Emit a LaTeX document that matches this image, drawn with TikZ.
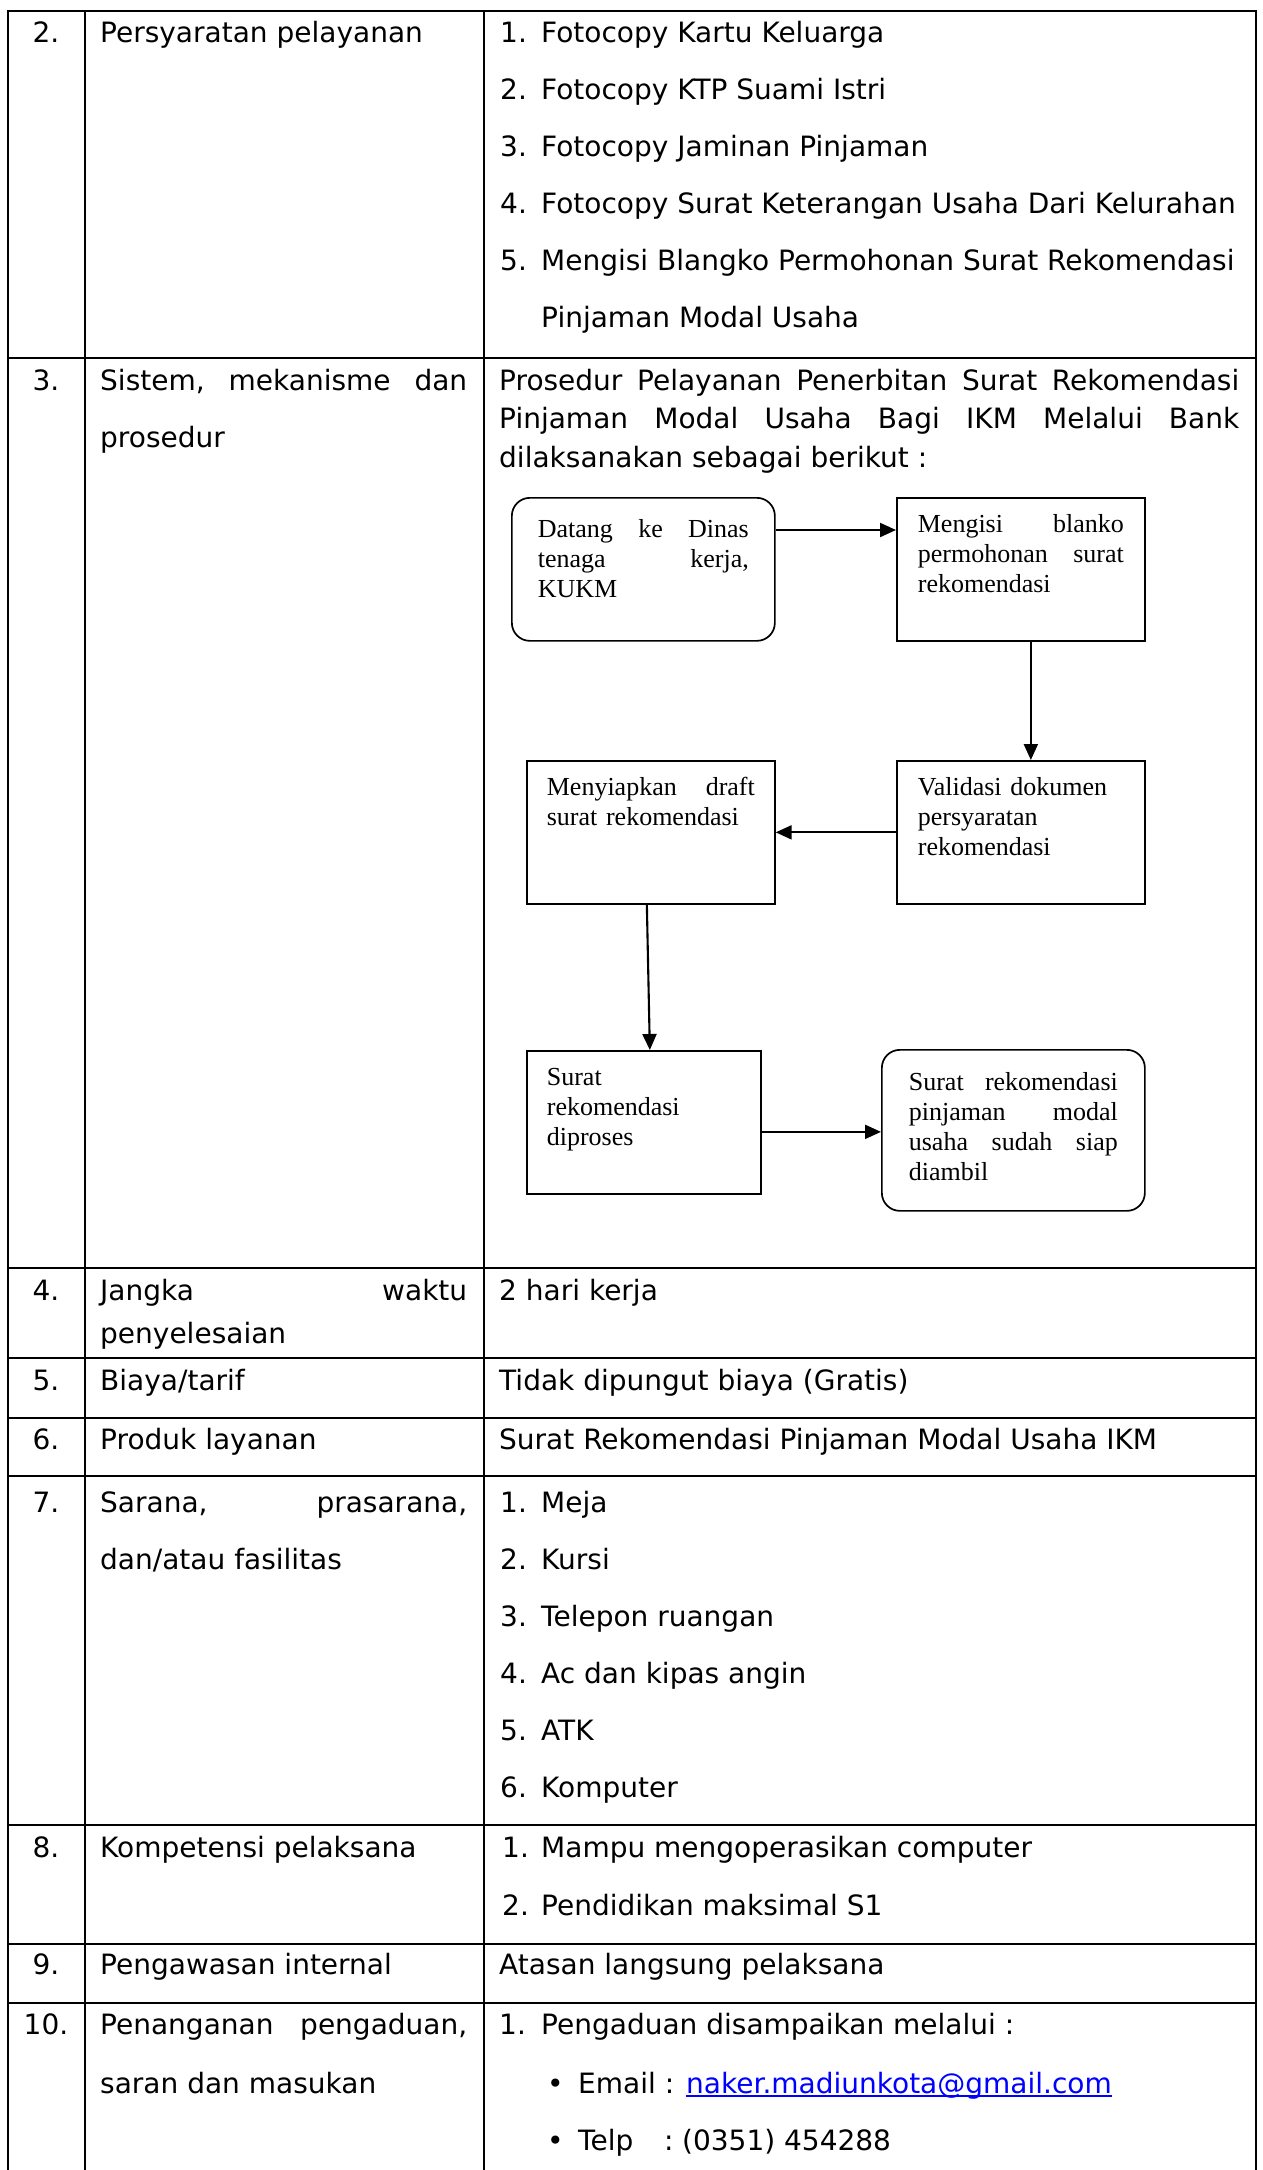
\documentclass[tikz,border=0pt]{standalone}
\usepackage{fontspec}
\setmainfont{DejaVu Sans}
\newfontfamily\tnr{Liberation Serif}
\usetikzlibrary{arrows.meta}
\newcommand\jline[2]{\leavevmode\hbox to #1{#2}}
\begin{document}
\begin{tikzpicture}[x=1pt,y=-1pt,
  grid/.style={line width=2.7pt,line cap=rect},
  cell/.style={anchor=base west,inner sep=0pt,font=\fontsize{28}{34}\selectfont},
  idx/.style={anchor=base,inner sep=0pt,font=\fontsize{28}{34}\selectfont},
  flow/.style={draw,line width=1.7pt,anchor=north west,inner ysep=0pt,align=left,font=\tnr\fontsize{26}{30}\selectfont},
  rbox/.style={rounded corners=18pt},
  conn/.style={line width=2.1pt,-{Triangle[length=16pt,width=14pt]}}
]
\useasboundingbox (0,0) rectangle (1262,2170);
\fill[white] (0,0) rectangle (1262,2170);

% ---- table grid ----
\foreach \yy in {11,358,1268,1358,1418,1476,1825,1944,2003}
  \draw[grid] (8,\yy) -- (1256,\yy);
\foreach \xx in {8,85,484,1256}
  \draw[grid] (\xx,11) -- (\xx,2172);

% ---- column 0: numbers ----
\node[idx] (n2) at (46,43) {2.};
\node[idx] (n3) at (46,390) {3.};
\node[idx] (n4) at (46,1300) {4.};
\node[idx] (n5) at (46,1390) {5.};
\node[idx] (n6) at (46,1449) {6.};
\node[idx] (n7) at (46,1512) {7.};
\node[idx] (n8) at (46,1857) {8.};
\node[idx] (n9) at (46,1974) {9.};
\node[idx] (n10) at (46,2034) {10.};

% ---- column 1: items ----
\node[cell] (c2) at (100,43) {Persyaratan pelayanan};
\node[cell] (c3a) at (100,390) {\jline{367pt}{Sistem,\hfill mekanisme\hfill dan}};
\node[cell] (c3b) at (100,447) {prosedur};
\node[cell] (c4a) at (100,1300) {\jline{367pt}{Jangka\hfill waktu}};
\node[cell] (c4b) at (100,1343) {penyelesaian};
\node[cell] (c5) at (100,1390) {Biaya/tarif};
\node[cell] (c6) at (100,1449) {Produk layanan};
\node[cell] (c7a) at (100,1512) {\jline{367pt}{Sarana,\hfill prasarana,}};
\node[cell] (c7b) at (100,1569) {dan/atau fasilitas};
\node[cell] (c8) at (100,1857) {Kompetensi pelaksana};
\node[cell] (c9) at (100,1974) {Pengawasan internal};
\node[cell] (c10a) at (100,2034) {\jline{367pt}{Penanganan\hfill pengaduan,}};
\node[cell] (c10b) at (100,2093) {saran dan masukan};

% ---- column 2: row 2 ----
\node[cell] (r2n1) at (500,43) {1.};  \node[cell] (r2t1) at (541,43) {Fotocopy Kartu Keluarga};
\node[cell] (r2n2) at (500,100) {2.}; \node[cell] (r2t2) at (541,100) {Fotocopy KTP Suami Istri};
\node[cell] (r2n3) at (500,157) {3.}; \node[cell] (r2t3) at (541,157) {Fotocopy Jaminan Pinjaman};
\node[cell] (r2n4) at (500,213) {4.}; \node[cell] (r2t4) at (541,213) {Fotocopy Surat Keterangan Usaha Dari Kelurahan};
\node[cell] (r2n5) at (500,270) {5.}; \node[cell] (r2t5) at (541,270) {Mengisi Blangko Permohonan Surat Rekomendasi};
\node[cell] (r2t6) at (541,327) {Pinjaman Modal Usaha};

% ---- row 3 ----
\node[cell] (r3a) at (499,390) {\jline{740pt}{Prosedur\hfill Pelayanan\hfill Penerbitan\hfill Surat\hfill Rekomendasi}};
\node[cell] (r3b) at (499,428) {\jline{740pt}{Pinjaman\hfill Modal\hfill Usaha\hfill Bagi\hfill IKM\hfill Melalui\hfill Bank}};
\node[cell] (r3c) at (499,467) {dilaksanakan sebagai berikut :};

% ---- flowchart ----
\node[flow,rbox,text width=211pt,inner xsep=26pt,text height=40pt,text depth=103pt] (A) at (511,497)
  {\jline{211pt}{Datang\hfill ke\hfill Dinas}\\\jline{211pt}{tenaga\hfill kerja,}\\KUKM};
\node[flow,text width=206pt,inner xsep=21pt,text height=35pt,text depth=108pt] (B) at (896,497)
  {\jline{206pt}{Mengisi\hfill blanko}\\\jline{206pt}{permohonan\hfill surat}\\rekomendasi};
\node[flow,text width=206pt,inner xsep=21pt,text height=35pt,text depth=108pt] (C) at (896,760)
  {Validasi dokumen\\persyaratan\\rekomendasi};
\node[flow,text width=208pt,inner xsep=20pt,text height=35pt,text depth=108pt] (D) at (526,760)
  {\jline{208pt}{Menyiapkan\hfill draft}\\surat rekomendasi};
\node[flow,text width=194pt,inner xsep=20pt,text height=35pt,text depth=108pt] (E) at (526,1050)
  {Surat\\rekomendasi\\diproses};
\node[flow,rbox,text width=209pt,inner xsep=27pt,text height=41pt,text depth=120pt] (F) at (881,1049)
  {\jline{209pt}{Surat\hfill rekomendasi}\\\jline{209pt}{pinjaman\hfill modal}\\\jline{209pt}{usaha\hfill sudah\hfill siap}\\diambil};

\draw[conn] ([yshift=-33pt]A.north east) -- ([yshift=-33pt]B.north west);
\draw[conn] ([xshift=10pt]B.south) -- ([xshift=10pt]C.north);
\draw[conn] (C.west) -- (D.east);
\draw[conn] ([xshift=-4pt]D.south) -- ([xshift=6pt]E.north);
\draw[conn] ([yshift=-9.5pt]E.east) -- ([yshift=-1.5pt]F.west);

% ---- rows 4-6 ----
\node[cell] (r4) at (499,1300) {2 hari kerja};
\node[cell] (r5) at (499,1390) {Tidak dipungut biaya (Gratis)};
\node[cell] (r6) at (499,1449) {Surat Rekomendasi Pinjaman Modal Usaha IKM};

% ---- row 7 ----
\node[cell] (r7n1) at (500,1512) {1.}; \node[cell] (r7t1) at (541,1512) {Meja};
\node[cell] (r7n2) at (500,1569) {2.}; \node[cell] (r7t2) at (541,1569) {Kursi};
\node[cell] (r7n3) at (500,1626) {3.}; \node[cell] (r7t3) at (541,1626) {Telepon ruangan};
\node[cell] (r7n4) at (500,1683) {4.}; \node[cell] (r7t4) at (541,1683) {Ac dan kipas angin};
\node[cell] (r7n5) at (500,1740) {5.}; \node[cell] (r7t5) at (541,1740) {ATK};
\node[cell] (r7n6) at (500,1797) {6.}; \node[cell] (r7t6) at (541,1797) {Komputer};

% ---- row 8 ----
\node[cell] (r8n1) at (502,1857) {1.}; \node[cell] (r8t1) at (541,1857) {Mampu mengoperasikan computer};
\node[cell] (r8n2) at (502,1915) {2.}; \node[cell] (r8t2) at (541,1915) {Pendidikan maksimal S1};

% ---- row 9 ----
\node[cell] (r9) at (499,1974) {Atasan langsung pelaksana};

% ---- row 10 ----
\node[cell] (r10n) at (499,2034) {1.}; \node[cell] (r10t) at (541,2034) {Pengaduan disampaikan melalui :};
\node[cell] (bul1) at (547,2093) {•};
\node[cell] (em) at (578,2093) {Email :};
\node[cell,text=blue] (lk) at (686,2093) {naker.madiunkota@gmail.com};
\draw[blue,line width=1.5pt] ([yshift=-3pt]lk.base west) -- ([yshift=-3pt]lk.base east);
\node[cell] (bul2) at (547,2150) {•};
\node[cell] (tp) at (578,2150) {Telp};
\node[cell] (tc) at (664,2150) {:};
\node[cell] (tn) at (682,2150) {(0351) 454288};
\end{tikzpicture}
\end{document}
